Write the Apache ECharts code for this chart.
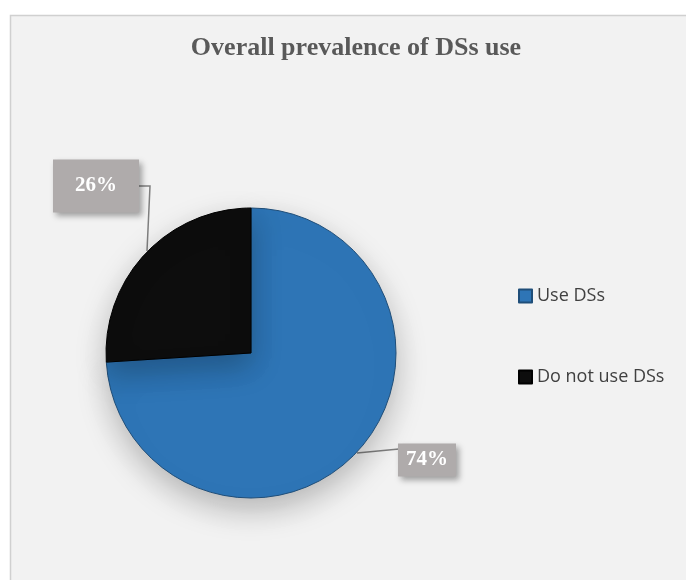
<!DOCTYPE html>
<html><head><meta charset="utf-8">
<script src="https://cdn.jsdelivr.net/npm/echarts@6/dist/echarts.min.js"></script>
<style>html,body{margin:0;padding:0;background:#fff;}#c{width:686px;height:580px;}</style>
</head><body><div id="c"></div>
<script>
const categories = ['Use DSs', 'Do not use DSs'];
const values = [74, 26];
const colors = ['#2e75b6', '#0d0d0d'];
const labelText = ['74%', '26%'];

const chart = echarts.init(document.getElementById('c'), null, {renderer: 'canvas'});
const labelPos = [
  {x: 427, y: 460, pts: [[357, 453], [378, 451], [399, 449]], pad: [6, 8, 6, 8]},
  {x: 96, y: 186, pts: [[147, 251], [150, 186], [139, 186]], pad: [16, 22, 16, 22]}
];
chart.setOption({
  backgroundColor: 'transparent',
  graphic: [{
    type: 'rect', z: -10, silent: true,
    shape: {x: 10.5, y: 15.5, width: 690, height: 580},
    style: {fill: '#f2f2f2', stroke: '#d0d0d0', lineWidth: 1.5}
  }],
  title: {
    text: 'Overall prevalence of DSs use',
    left: 356, top: 35, textAlign: 'center', padding: 0,
    textStyle: {fontFamily: 'Liberation Serif', fontWeight: 'bold', fontSize: 26, color: '#595959'}
  },
  legend: {
    orient: 'vertical', left: 518, top: 287, itemGap: 63, padding: 0,
    itemWidth: 13, itemHeight: 13, icon: 'rect',
    textStyle: {fontFamily: 'Open Sans', fontSize: 18, color: '#404040'},
    data: categories
  },
  series: [{
    type: 'pie',
    center: [251, 353], radius: 145,
    startAngle: 90, clockwise: true,
    silent: true,
    itemStyle: {shadowBlur: 30, shadowOffsetY: 12, shadowColor: 'rgba(0,0,0,0.25)'},
    labelLine: {show: true, lineStyle: {color: '#7f7f7f', width: 1.5}},
    labelLayout: function (p) {
      const l = labelPos[p.dataIndex];
      return {x: l.x, y: l.y, align: 'center', verticalAlign: 'middle', labelLinePoints: l.pts};
    },
    data: categories.map((n, i) => ({
      name: n, value: values[i],
      itemStyle: {color: colors[i], borderColor: i === 0 ? '#1f4e79' : '#000', borderWidth: 1},
      label: {
        show: true, formatter: labelText[i],
        fontFamily: 'Liberation Serif', fontWeight: 'bold', fontSize: 21, color: '#ffffff',
        backgroundColor: '#afabab', padding: labelPos[i].pad,
        shadowBlur: 6, shadowOffsetX: 3, shadowOffsetY: 3, shadowColor: 'rgba(0,0,0,0.35)'
      }
    }))
  }]
});
</script></body></html>
